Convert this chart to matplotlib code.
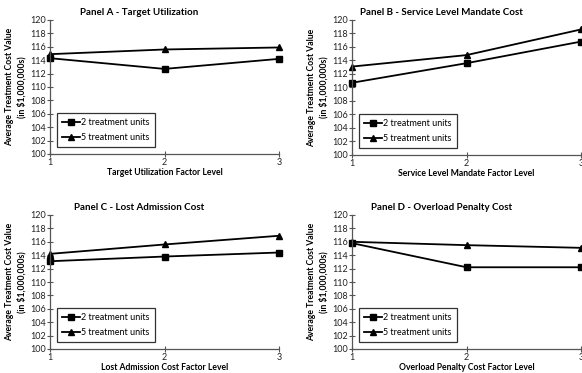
import matplotlib.pyplot as plt

# factor levels and average treatment cost values ($1,000,000s)
levels = [1, 2, 3]

titles = ['Panel A - Target Utilization', 'Panel B - Service Level Mandate Cost',
          'Panel C - Lost Admission Cost', 'Panel D - Overload Penalty Cost']
xlabels = ['Target Utilization Factor Level', 'Service Level Mandate Factor Level',
           'Lost Admission Cost Factor Level', 'Overload Penalty Cost Factor Level']

units2_a = [114.3, 112.7, 114.2]
units5_a = [114.9, 115.6, 115.9]
units2_b = [110.7, 113.6, 116.8]
units5_b = [113.1, 114.8, 118.6]
units2_c = [113.1, 113.8, 114.4]
units5_c = [114.2, 115.6, 116.9]
units2_d = [115.8, 112.2, 112.2]
units5_d = [116.0, 115.5, 115.1]

series2 = [units2_a, units2_b, units2_c, units2_d]
series5 = [units5_a, units5_b, units5_c, units5_d]

plt.rcParams['font.family'] = ['Lato', 'DejaVu Sans']

fig = plt.figure(figsize=(5.82, 3.73), dpi=100)
W, H = 582, 373
# axes boxes in pixels: left, top, right, bottom
boxes = [(50, 20, 279, 154), (352, 20, 581, 155),
         (50, 215, 279, 349), (352, 215, 581, 349)]

axis_col = '#555555'
for i, (l, t, r, b) in enumerate(boxes):
    ax = fig.add_axes([l / W, 1 - b / H, (r - l) / W, (b - t) / H])
    ax.plot(levels, series2[i], color='black', lw=1.3, marker='s', ms=4.3,
            label='2 treatment units', clip_on=False)
    ax.plot(levels, series5[i], color='black', lw=1.3, marker='^', ms=4.3,
            label='5 treatment units', clip_on=False)
    ax.set_xlim(1, 3)
    ax.set_ylim(100, 120)
    ax.set_xticks(levels)
    ax.set_yticks(range(100, 121, 2))
    for s in ['top', 'right']:
        ax.spines[s].set_visible(False)
    for s in ['left', 'bottom']:
        ax.spines[s].set_color(axis_col)
        ax.spines[s].set_linewidth(0.9)
    ax.tick_params(direction='inout', length=4, width=0.8, color=axis_col,
                   labelsize=6.5, labelcolor='#222222', pad=1)
    ax.set_xlabel(xlabels[i], fontsize=6.2, fontweight='bold', labelpad=0.5)
    ax.set_ylabel('Average Treatment Cost Value\n(in $1,000,000s)', fontsize=6.2,
                  fontweight='bold', labelpad=2.5, linespacing=1.35)
    ax.text(0.39, 1.055, titles[i], transform=ax.transAxes, ha='center', va='center',
            fontsize=7, fontweight='bold')
    leg = ax.legend(loc='lower left', bbox_to_anchor=(0.03, 0.05), fontsize=6.5,
                    frameon=True, fancybox=False, handlelength=2.0,
                    handletextpad=0.15, labelspacing=0.7, borderpad=0.55,
                    borderaxespad=0)
    leg.get_frame().set_edgecolor('black')
    leg.get_frame().set_linewidth(0.9)

fig.savefig('out.png', dpi=100)
